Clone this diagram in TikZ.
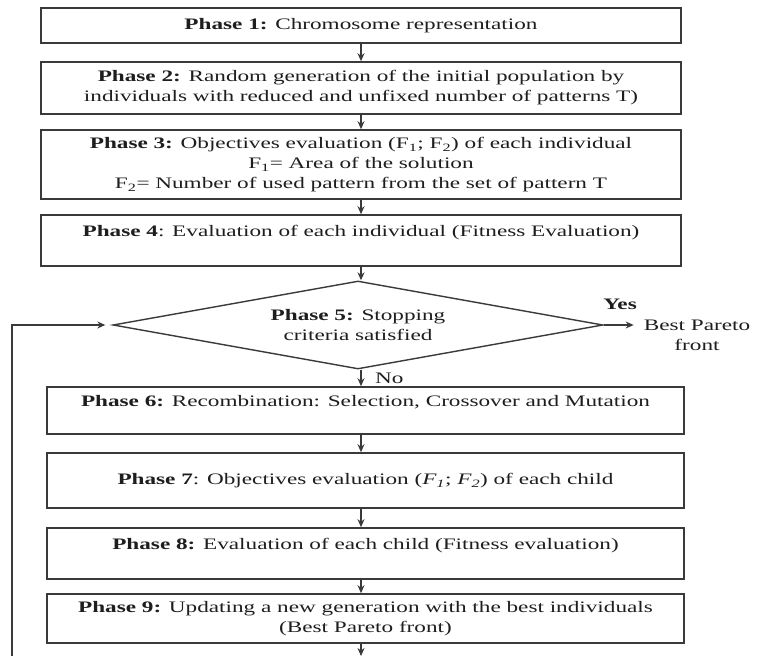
\documentclass[tikz,border=0pt]{standalone}
\usepackage{fontspec}
\setmainfont{Liberation Serif}[FakeStretch=1.45]
\usetikzlibrary{shapes.geometric,arrows.meta,calc}
\definecolor{frame}{HTML}{3A3A3A}
\definecolor{ink}{HTML}{1E1E1E}
\begin{document}
\begin{tikzpicture}[x=1pt,y=-1pt,
  phasebox/.style={draw=frame,line width=1.6pt,minimum width=640pt,inner sep=0pt,align=center,text=ink,font=\fontsize{16}{20}\selectfont},
  decbox/.style={diamond,aspect=5.57,draw=frame,line width=1.4pt,minimum width=490pt,minimum height=88pt,inner sep=0pt,align=center,text=ink,font=\fontsize{16}{20}\selectfont},
  lbl/.style={text=ink,align=center,inner sep=2pt,font=\fontsize{16}{20}\selectfont},
  arr/.style={draw=frame,line width=1.2pt,-{Stealth[length=8pt,width=7pt]}}]
\useasboundingbox[fill=white] (0,0) rectangle (766,656);
\coordinate (axis) at (361,0);
\node[phasebox,minimum height=35pt] (b1) at (361,25.5) {\textbf{Phase 1:} Chromosome representation};
\node[phasebox,minimum height=52pt] (b2) at (361,88) {\textbf{Phase 2:} Random generation of the initial population by\\individuals with reduced and unfixed number of patterns T)};
\node[phasebox,minimum height=69pt] (b3) at (361,164.5) {\textbf{Phase 3:} Objectives evaluation (F\textsubscript{1}; F\textsubscript{2}) of each individual\\F\textsubscript{1}= Area of the solution\\F\textsubscript{2}= Number of used pattern from the set of pattern T};
\node[phasebox,minimum height=51pt] (b4) at (361,240.5) {\textbf{Phase 4}: Evaluation of each individual (Fitness Evaluation)\\\mbox{}};
\node[decbox] (d) at (358,325) {\textbf{Phase 5:} Stopping\\criteria satisfied};
\node[phasebox,minimum width=637pt,minimum height=47pt] (b6) at (365.5,410.5) {\textbf{Phase 6:} Recombination: Selection, Crossover and Mutation\\\mbox{}};
\node[phasebox,minimum width=637pt,minimum height=55pt] (b7) at (365.5,480.5) {\textbf{Phase 7}: Objectives evaluation (\textit{F\textsubscript{1}}; \textit{F\textsubscript{2}}) of each child};
\node[phasebox,minimum width=637pt,minimum height=51pt] (b8) at (365.5,553.5) {\textbf{Phase 8:} Evaluation of each child (Fitness evaluation)\\\mbox{}};
\node[phasebox,minimum width=637pt,minimum height=49pt] (b9) at (365.5,618.5) {\textbf{Phase 9:} Updating a new generation with the best individuals\\(Best Pareto front)};
\node[lbl] (yes) at (620,304) {\textbf{Yes}};
\node[lbl] (best) at (697,335) {Best Pareto\\front};
\node[lbl,anchor=west] (no) at (373,378) {No};
\coordinate (bb) at (361,656);
\coordinate (lb) at (12,656);
\draw[arr] (b1.south -| axis) -- (b2.north -| axis);
\draw[arr] (b2.south -| axis) -- (b3.north -| axis);
\draw[arr] (b3.south -| axis) -- (b4.north -| axis);
\draw[arr] (b4.south -| axis) -- (d.north -| axis);
\draw[arr] (d.south -| axis) -- (b6.north -| axis);
\draw[arr] (b6.south -| axis) -- (b7.north -| axis);
\draw[arr] (b7.south -| axis) -- (b8.north -| axis);
\draw[arr] (b8.south -| axis) -- (b9.north -| axis);
\draw[arr] (b9.south -| axis) -- (bb);
\draw[arr] (d.east) -- ([xshift=-8pt]d.east -| best.west);
\draw[arr,shorten >=7pt] (lb) |- (d.west);
\end{tikzpicture}
\end{document}
